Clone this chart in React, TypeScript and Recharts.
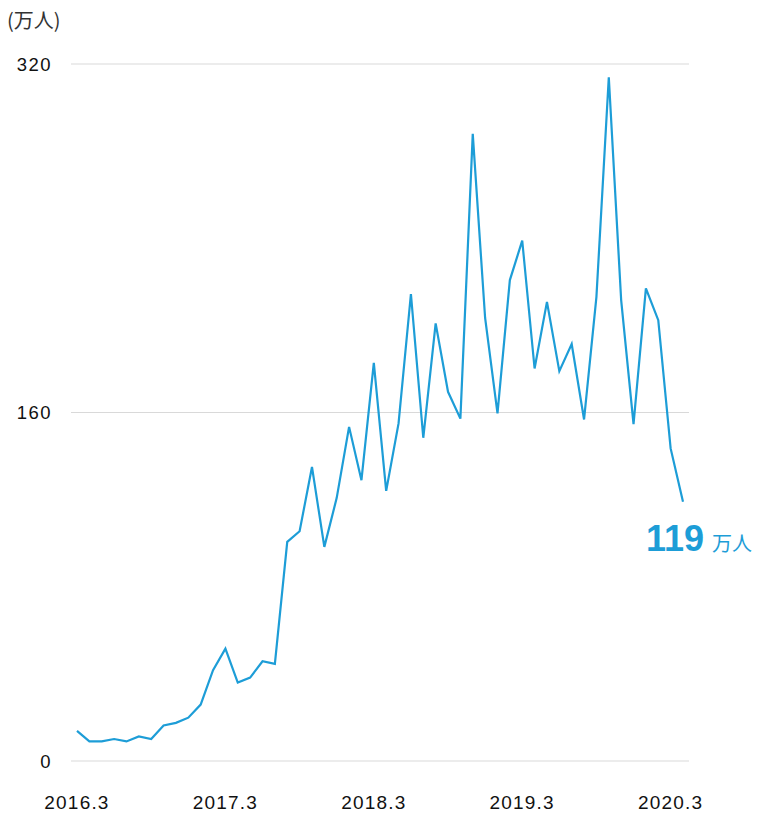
import { LineChart, Line, XAxis, YAxis, CartesianGrid, LabelList } from 'recharts'

// 2016.3 - 2020.4, monthly (万人)
const months = [
  '2016.3', '2016.4', '2016.5', '2016.6', '2016.7', '2016.8', '2016.9', '2016.10', '2016.11', '2016.12',
  '2017.1', '2017.2', '2017.3', '2017.4', '2017.5', '2017.6', '2017.7', '2017.8', '2017.9', '2017.10',
  '2017.11', '2017.12', '2018.1', '2018.2', '2018.3', '2018.4', '2018.5', '2018.6', '2018.7', '2018.8',
  '2018.9', '2018.10', '2018.11', '2018.12', '2019.1', '2019.2', '2019.3', '2019.4', '2019.5', '2019.6',
  '2019.7', '2019.8', '2019.9', '2019.10', '2019.11', '2019.12', '2020.1', '2020.2', '2020.3', '2020.4',
]

const users = [
  13.8, 9.0, 9.0, 10.1, 9.0, 11.3, 10.1, 16.3, 17.5, 19.9,
  25.9, 41.7, 51.6, 36.0, 38.3, 45.8, 44.6, 100.6, 105.5, 135.0,
  98.3, 120.8, 153.4, 128.9, 182.8, 124.0, 155.0, 214.4, 148.4, 200.9,
  169.5, 157.2, 287.9, 203.4, 159.6, 220.8, 238.9, 180.2, 210.8, 179.0,
  191.4, 156.8, 213.1, 313.9, 211.6, 154.7, 217.0, 202.4, 143.5, 119,
]

const xTicks = ['2016.3', '2017.3', '2018.3', '2019.3', '2020.3']
const yTicks = [0, 160, 320]

const data = months.map((m, i) => ({ month: m, value: users[i] }))

const BLUE = '#1d9dd7'
const FONT = '"Liberation Sans", Arial, sans-serif'
const CJK = '"Noto Sans CJK JP", "Noto Sans CJK SC", sans-serif'

const XTick = ({ x, y, payload }: any) => (
  <text x={x} y={y + 47.6} textAnchor="middle" fill="#111" fontSize={19} fontFamily={FONT} letterSpacing={1.2}>
    {payload.value}
  </text>
)

const YTick = ({ x, y, payload }: any) => (
  <text x={x - 19} y={y + 6.6} textAnchor="end" fill="#111" fontSize={18.5} fontFamily={FONT} letterSpacing={1.5}>
    {payload.value}
  </text>
)

const LastLabel = ({ x, y, index }: any) => {
  if (index !== users.length - 1) return null
  return (
    <text x={x - 37} y={y + 49.5} fill={BLUE}>
      <tspan fontSize={36} fontWeight="bold" fontFamily={FONT}>{users[index]}</tspan>
      <tspan dx={8} fontSize={20} fontFamily={CJK}>万人</tspan>
    </text>
  )
}

export default function App() {
  return (
    <div style={{ position: 'relative', width: 757, height: 814 }}>
      <style>{'body{margin:0}'}</style>
      <LineChart width={757} height={814} data={data} margin={{ top: 64, right: 68, bottom: 0, left: 0 }}>
        <text x={7} y={28} fill="#333" fontSize={20} fontFamily={CJK}>(万人)</text>
        <CartesianGrid vertical={false} stroke="#d9d9d9" strokeWidth={1.2} />
        <XAxis
          dataKey="month"
          ticks={xTicks}
          interval={0}
          axisLine={false}
          tickLine={false}
          tickSize={0}
          tickMargin={0}
          height={53}
          padding={{ left: 6, right: 6 }}
          tick={<XTick />}
        />
        <YAxis
          domain={[0, 320]}
          ticks={yTicks}
          axisLine={false}
          tickLine={false}
          tickSize={0}
          tickMargin={0}
          width={71}
          tick={<YTick />}
        />
        <Line
          type="linear"
          dataKey="value"
          stroke={BLUE}
          strokeWidth={2.2}
          dot={false}
          isAnimationActive={false}
        >
          <LabelList dataKey="value" content={<LastLabel />} />
        </Line>
      </LineChart>
    </div>
  )
}
